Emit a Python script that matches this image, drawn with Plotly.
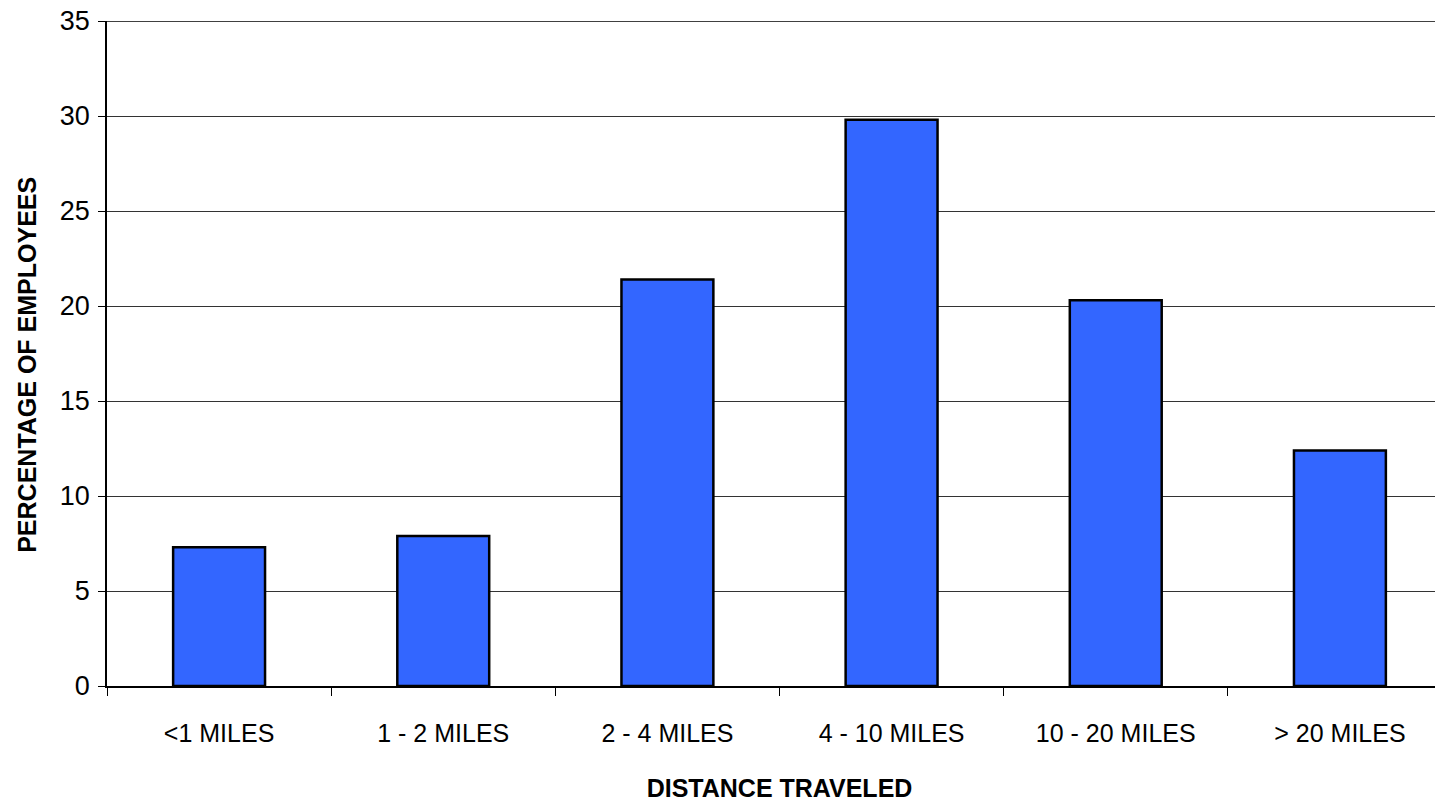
import plotly.graph_objects as go

categories = ["<1 MILES", "1 - 2 MILES", "2 - 4 MILES", "4 - 10 MILES", "10 - 20 MILES", "> 20 MILES"]
percentages = [7.3, 7.9, 21.4, 29.8, 20.3, 12.4]
y_ticks = [0, 5, 10, 15, 20, 25, 30, 35]

font_family = "Liberation Sans Narrow, Arial Narrow, Liberation Sans, Arial, sans-serif"

fig = go.Figure(go.Bar(
    x=categories,
    y=percentages,
    width=0.41,
    marker=dict(color="#3366FF", line=dict(color="black", width=2.5)),
))

fig.update_layout(
    width=1452, height=808,
    margin=dict(l=107, r=0, t=21, b=122),
    paper_bgcolor="white", plot_bgcolor="white",
    showlegend=False,
    font=dict(family=font_family, size=25, color="black"),
    xaxis=dict(
        type="category",
        range=[-0.5, 5.5],
        tickson="boundaries",
        ticks="outside", ticklen=8, tickcolor="black", tickwidth=1,
        showline=True, linecolor="black", linewidth=1.5,
        showgrid=False,
        tickfont=dict(size=25, family=font_family),
        ticklabelstandoff=24,
        title=dict(text="<b>DISTANCE TRAVELED</b>", font=dict(size=25, family=font_family), standoff=34),
    ),
    yaxis=dict(
        range=[0, 35],
        tickvals=y_ticks,
        ticks="outside", ticklen=7, tickcolor="black", tickwidth=1,
        showline=True, linecolor="black", linewidth=1.5,
        showgrid=True, gridcolor="#333333", gridwidth=1,
        zeroline=False,
        tickfont=dict(size=27, family=font_family),
        ticklabelstandoff=3,
    ),
    annotations=[dict(
        text="<b>PERCENTAGE OF EMPLOYEES</b>", textangle=-90,
        xref="paper", yref="paper", x=(27 - 107) / 1345, y=0.483,
        xanchor="center", yanchor="middle", showarrow=False,
        font=dict(size=25, family=font_family, color="black"),
    )],
    shapes=[dict(type="line", xref="paper", yref="y", x0=0, x1=1, y0=35, y1=35,
                 line=dict(color="black", width=1.5), layer="above")],
)

fig.write_html(
    "out.html",
    config={"displayModeBar": False},
    post_script="document.body.style.margin='0px';document.body.style.overflow='hidden';",
)
